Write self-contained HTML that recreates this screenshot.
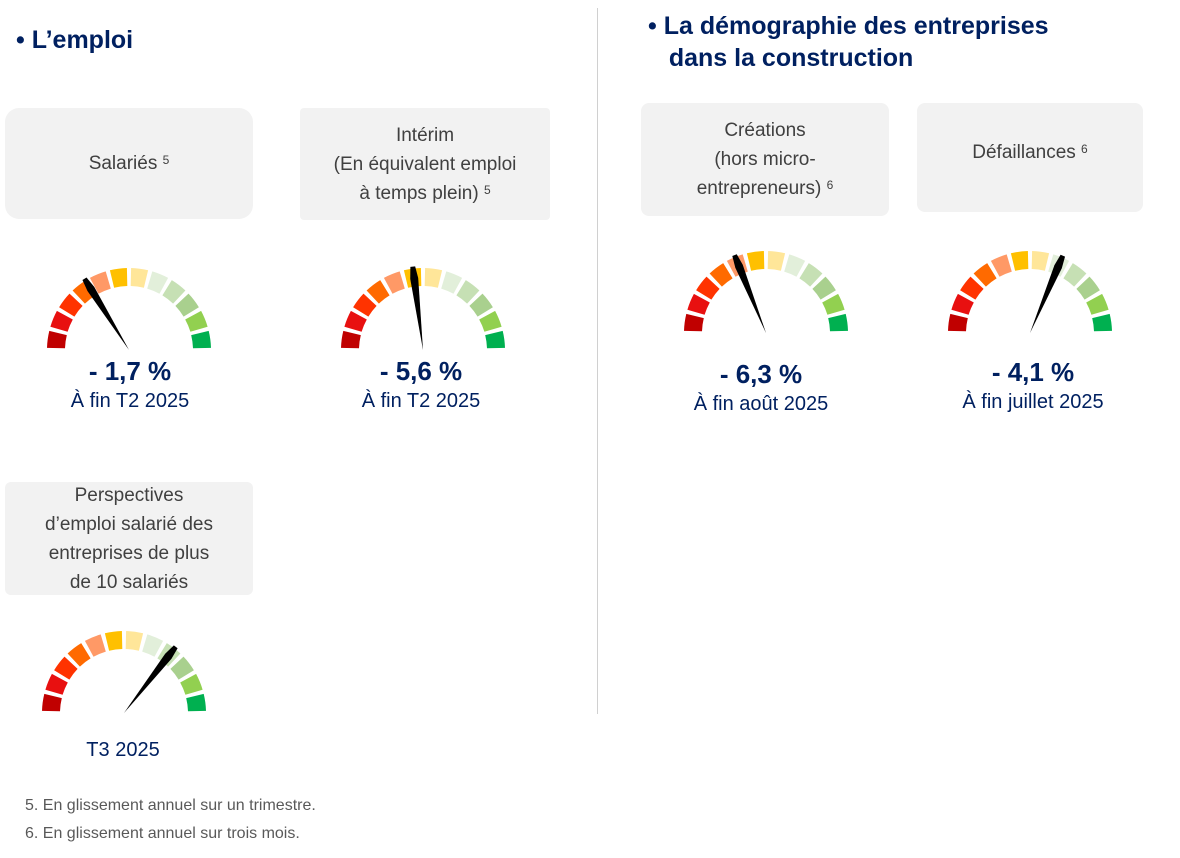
<!DOCTYPE html>
<html><head><meta charset="utf-8"><style>
body{margin:0;width:1180px;height:858px;background:#fff;position:relative;font-family:"Liberation Sans",sans-serif;overflow:hidden}
.a{position:absolute}
.h{color:#002060;font-weight:bold;font-size:25px;line-height:32px}
.box{position:absolute;background:#f2f2f2;border-radius:14px;color:#404040;font-size:19px;text-align:center;display:flex;align-items:center;justify-content:center;line-height:29px}
.box sup{font-size:12px;vertical-align:top;position:relative;top:-3px}
.v{position:absolute;color:#002060;font-weight:bold;font-size:26px;text-align:center;width:250px}
.s{position:absolute;color:#002060;font-size:20px;text-align:center;width:250px}
.f{position:absolute;left:25px;color:#595959;font-size:16px}
</style></head><body>
<div class="a h" style="left:16px;top:24px">• L’emploi</div>
<div class="a h" style="left:648px;top:10px">• La démographie des entreprises<br>&nbsp;&nbsp;&nbsp;dans la construction</div>
<div class="a" style="left:597px;top:8px;width:1px;height:706px;background:#d0d0d0"></div>

<div class="box" style="left:5px;top:108px;width:248px;height:111px"><div>Salariés <sup>5</sup></div></div>
<div class="box" style="left:300px;top:108px;width:250px;height:112px;border-radius:4px"><div>Intérim<br>(En équivalent emploi<br>à temps plein) <sup>5</sup></div></div>
<div class="box" style="left:641px;top:103px;width:248px;height:113px;border-radius:8px"><div>Créations<br>(hors micro-<br>entrepreneurs) <sup>6</sup></div></div>
<div class="box" style="left:917px;top:103px;width:226px;height:109px;border-radius:8px;padding-bottom:10px;box-sizing:border-box"><div>Défaillances <sup>6</sup></div></div>
<div class="box" style="left:5px;top:482px;width:248px;height:113px;border-radius:6px"><div>Perspectives<br>d’emploi salarié des<br>entreprises de plus<br>de 10 salariés</div></div>

<svg class="a" style="left:0;top:0" width="1180" height="858" id="g"></svg>

<div class="v" style="left:5px;top:356px">- 1,7 %</div>
<div class="s" style="left:5px;top:390px">À fin T2 2025</div>
<div class="v" style="left:296px;top:356px">- 5,6 %</div>
<div class="s" style="left:296px;top:390px">À fin T2 2025</div>
<div class="v" style="left:636px;top:359px">- 6,3 %</div>
<div class="s" style="left:636px;top:393px">À fin août 2025</div>
<div class="v" style="left:908px;top:357px">- 4,1 %</div>
<div class="s" style="left:908px;top:391px">À fin juillet 2025</div>
<div class="s" style="left:-2px;top:739px">T3 2025</div>
<div class="f" style="top:797px">5. En glissement annuel sur un trimestre.</div>
<div class="f" style="top:825px">6. En glissement annuel sur trois mois.</div>
<script>
var cols=["#c00000","#e81010","#ff3300","#ff6a00","#ff9966","#ffc000","#ffe699","#e2efda","#c6e0b4","#a9d08e","#92d050","#00b050"];
var g=[[129,350,122],[423,350,97],[766,333,112],[1030,333,67],[124,713,52]];
var s="",ro=82,ri=64,r=Math.PI/180;
g.forEach(function(q){var cx=q[0],cy=q[1];
for(var i=0;i<12;i++){var a1=(180-i*15-1.5)*r,a2=(180-(i+1)*15+1.5)*r;
function p(rr,a){return (cx+rr*Math.cos(a)).toFixed(1)+","+(cy-rr*Math.sin(a)).toFixed(1)}
s+='<path fill="'+cols[i]+'" d="M'+p(ri,a1)+' L'+p(ro,a1)+' A'+ro+','+ro+' 0 0 1 '+p(ro,a2)+' L'+p(ri,a2)+' A'+ri+','+ri+' 0 0 0 '+p(ri,a1)+'Z"/>';}
var a=q[2]*r,L=84,tx=cx+L*Math.cos(a),ty=cy-L*Math.sin(a),nx=-Math.sin(a)*4,ny=-Math.cos(a)*4;
var bx=cx+(L-12)*Math.cos(a),by=cy-(L-12)*Math.sin(a);
s+='<polygon fill="#000" points="'+cx+','+cy+' '+(bx+nx)+','+(by+ny)+' '+(tx+nx*0.6)+','+(ty+ny*0.6)+' '+(tx-nx*0.6)+','+(ty-ny*0.6)+' '+(bx-nx)+','+(by-ny)+'"/>';});
document.getElementById("g").innerHTML=s;
</script>
</body></html>
